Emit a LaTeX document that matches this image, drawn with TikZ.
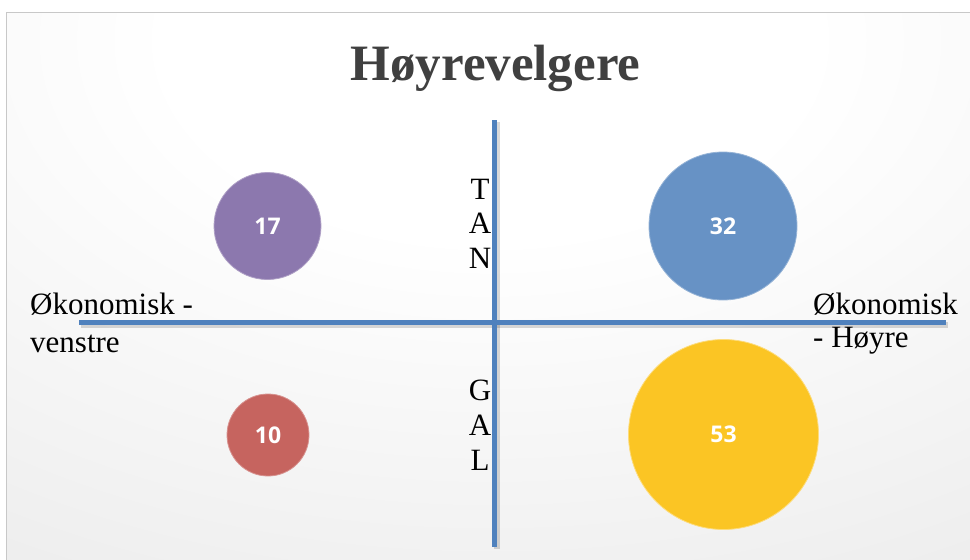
\documentclass[tikz,border=0pt]{standalone}
\usepackage{fontspec}
\setmainfont{Liberation Serif}
\newfontfamily\numfont{Open Sans}
\definecolor{bgouter}{HTML}{D2D2D2}
\definecolor{axisblue}{HTML}{4F81BD}
\definecolor{cpurple}{HTML}{8C78AE}
\definecolor{cblue}{HTML}{6792C5}
\definecolor{cred}{HTML}{C6645F}
\definecolor{cyellow}{HTML}{FBC524}
\definecolor{titlegray}{HTML}{404040}
\definecolor{framegray}{HTML}{C8C8C8}
\pgfdeclareradialshading{bgshade}{\pgfpoint{0bp}{0bp}}{color(0bp)=(white); color(8bp)=(white); color(50bp)=(bgouter)}
\begin{document}
\begin{tikzpicture}[x=1pt,y=-1pt,
  axis/.style={draw=axisblue, line width=5pt},
  axshadow/.style={draw=black, opacity=.15, line width=6pt},
  bubble/.style={circle, inner sep=0pt, text=white, font=\numfont\bfseries\fontsize{23}{27}\selectfont},
  lbl/.style={inner sep=0pt, font=\fontsize{31}{35}\selectfont, text=black},
  letter/.style={inner sep=0pt, anchor=base, font=\fontsize{31}{35}\selectfont, text=black}]
\useasboundingbox (0,0) rectangle (970,560);
\fill[white] (0,0) rectangle (970,560);
\begin{scope}
\clip (6,12) rectangle (971,561);
\shade[shading=bgshade] (490,40) ellipse [x radius=1000, y radius=620];
\end{scope}
\draw[framegray, line width=1pt] (6,561) -- (6,12) -- (971,12);
% title
\node[anchor=base, inner sep=0pt, text=titlegray, font=\bfseries\fontsize{51}{58}\selectfont] (title) at (495.5,80) {Høyrevelgere};
% axes
\coordinate (hl) at (79,322);
\coordinate (hr) at (946,322);
\coordinate (vt) at (494,120);
\coordinate (vb) at (494,547);
\draw[axshadow] ([shift={(1.5,3)}]hl) -- ([shift={(1.5,3)}]hr);
\draw[axshadow] ([shift={(2.5,2)}]vt) -- ([shift={(2.5,2)}]vb);
\draw[axis] (hl) -- (hr);
\draw[axis] (vt) -- (vb);
% bubbles
\node[bubble, fill=cpurple, draw=cpurple!70!white, line width=0.8pt, minimum size=107pt] (b17) at (267.5,226) {17};
\node[bubble, fill=cblue, draw=cblue!70!white, line width=0.8pt, minimum size=148pt] (b32) at (723,226) {32};
\node[bubble, fill=cred, draw=cred!70!white, line width=0.8pt, minimum size=82pt] (b10) at (268,435) {10};
\node[bubble, fill=cyellow, draw=cyellow!60!white, line width=0.8pt, minimum size=190pt] (b53) at (723.5,434.5) {53};
% axis labels
\node[lbl, anchor=base west] (l1) at (30,314) {Økonomisk -};
\node[lbl, anchor=base west] (l2) at (30,352) {venstre};
\node[lbl, anchor=base west] (r1) at (813,314) {Økonomisk};
\node[lbl, anchor=base west] (r2) at (813,347) {- Høyre};
% vertical letters
\node[letter] (t1) at (480,199) {T};
\node[letter] (t2) at (480,233) {A};
\node[letter] (t3) at (480,268) {N};
\node[letter] (g1) at (480,400) {G};
\node[letter] (g2) at (480,435) {A};
\node[letter] (g3) at (480,470) {L};
\end{tikzpicture}
\end{document}
